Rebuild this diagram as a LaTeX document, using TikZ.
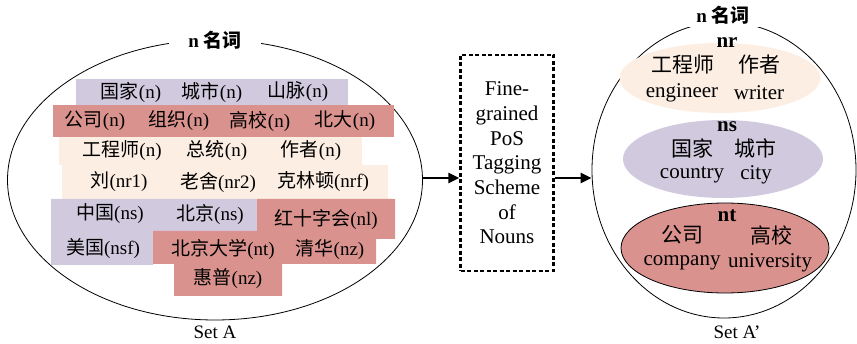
\documentclass[tikz,border=0pt]{standalone}
\usepackage{fontspec}
\setmainfont{Liberation Serif}
\newfontfamily\cjk{Noto Sans CJK SC}
\usepackage{tikz}
\usepackage{xcolor}
\usetikzlibrary{positioning, arrows.meta, shapes.geometric}

\definecolor{lilac}{HTML}{D1CADF}
\definecolor{rose}{HTML}{D9928D}
\definecolor{peach}{HTML}{FCEEE3}
\newcommand{\zh}[1]{{\cjk #1}}

\begin{document}
\begin{tikzpicture}[x=1pt, y=-1pt, >={Triangle[length=11pt,width=10pt]},
    word/.style={inner sep=0pt, font=\fontsize{19}{21}\selectfont},
    big/.style={inner sep=0pt, font=\fontsize{21}{24}\selectfont},
    tagname/.style={inner sep=0pt, font=\fontsize{21}{24}\selectfont\bfseries},
    setring/.style={draw, ellipse, line width=0.8pt, inner sep=0pt},
    cloud/.style={ellipse, inner sep=0pt}]
    \useasboundingbox (0,0) rectangle (857,344);

    % left set
    \node[setring, minimum width=415pt, minimum height=280pt] (setA) at (215,180) {};
    \node[word, fill=white, inner xsep=19pt, inner ysep=3pt] (titleA) at (215,40) {\textbf{n} \zh{\bfseries 名词}};
    \node[word] (capA) at (215,332) {Set A};

    \fill[lilac] (76,79) rectangle (348,105);
    \fill[rose] (53,105) rectangle (394,137);
    \fill[peach] (59,137) rectangle (362,165);
    \fill[peach] (62,165) rectangle (388,199);
    \fill[lilac] (51,199) -- (257,199) -- (257,231) -- (153,231) -- (153,265) -- (51,265) -- cycle;
    \fill[rose] (257,199) -- (395,199) -- (395,239) -- (376,239) -- (376,264) -- (282,264)
        -- (282,296) -- (174,296) -- (174,264) -- (153,264) -- (153,231) -- (257,231) -- cycle;

    \node[word] (a1) at (131,92) {\zh{国家}(n)};
    \node[word] (a2) at (212,92) {\zh{城市}(n)};
    \node[word] (a3) at (298,92) {\zh{山脉}(n)};
    \node[word] (b1) at (95,121) {\zh{公司}(n)};
    \node[word] (b2) at (179,121) {\zh{组织}(n)};
    \node[word] (b3) at (260,121) {\zh{高校}(n)};
    \node[word] (b4) at (345,121) {\zh{北大}(n)};
    \node[word] (c1) at (122,151) {\zh{工程师}(n)};
    \node[word] (c2) at (217,151) {\zh{总统}(n)};
    \node[word] (c3) at (311,151) {\zh{作者}(n)};
    \node[word] (d1) at (119,182) {\zh{刘}(nr1)};
    \node[word] (d2) at (218,182) {\zh{老舍}(nr2)};
    \node[word] (d3) at (323,182) {\zh{克林顿}(nrf)};
    \node[word] (e1) at (110,214) {\zh{中国}(ns)};
    \node[word] (e2) at (210,214) {\zh{北京}(ns)};
    \node[word] (e3) at (326,219) {\zh{红十字会}(nl)};
    \node[word] (f1) at (103,249) {\zh{美国}(nsf)};
    \node[word] (f2) at (223,249) {\zh{北京大学}(nt)};
    \node[word] (f3) at (330,250) {\zh{清华}(nz)};
    \node[word] (g1) at (228,279) {\zh{惠普}(nz)};

    % scheme
    \node[draw, line width=2.2pt, dash pattern=on 4pt off 2.5pt, minimum width=93pt,
        minimum height=216pt, align=center, font=\fontsize{21}{24.7}\selectfont]
        (scheme) at (507,163) {Fine-\\grained\\PoS\\Tagging\\Scheme\\of\\Nouns};

    % right set
    \node[setring, minimum width=264pt, minimum height=296pt] (setB) at (724,170) {};
    \node[word, fill=white, inner xsep=13pt, inner ysep=3pt] (titleB) at (723,15) {\textbf{n} \zh{\bfseries 名词}};
    \node[word] (capB) at (737,332) {Set A’};

    \node[cloud, fill=peach, minimum width=201pt, minimum height=70pt] (nr) at (720,78) {};
    \node[cloud, fill=lilac, minimum width=200pt, minimum height=78pt] (ns) at (723,159) {};
    \node[cloud, draw, line width=0.8pt, fill=rose, minimum width=208pt, minimum height=90pt] (nt) at (725,248) {};

    \node[tagname] (nrlab) at (727,43) {nr};
    \node[big] (h1) at (683,65) {\zh{工程师}};
    \node[big] (h2) at (759,65) {\zh{作者}};
    \node[big] (h3) at (682,93) {engineer};
    \node[big] (h4) at (759,93) {writer};
    \node[tagname] (nslab) at (727,127) {ns};
    \node[big] (k1) at (692,148) {\zh{国家}};
    \node[big] (k2) at (755,148) {\zh{城市}};
    \node[big] (k3) at (692,175) {country};
    \node[big] (k4) at (756,175) {city};
    \node[tagname] (ntlab) at (727,216) {nt};
    \node[big] (m1) at (682,235) {\zh{公司}};
    \node[big] (m2) at (771,235) {\zh{高校}};
    \node[big] (m3) at (682,263) {company};
    \node[big] (m4) at (770,263) {university};

    % arrows
    \coordinate (mid) at (0,178);
    \draw[->, line width=2.4pt] (setA.east |- mid) -- (scheme.west |- mid);
    \draw[->, line width=2.4pt] (scheme.east |- mid) -- (setB.west |- mid);
\end{tikzpicture}
\end{document}
